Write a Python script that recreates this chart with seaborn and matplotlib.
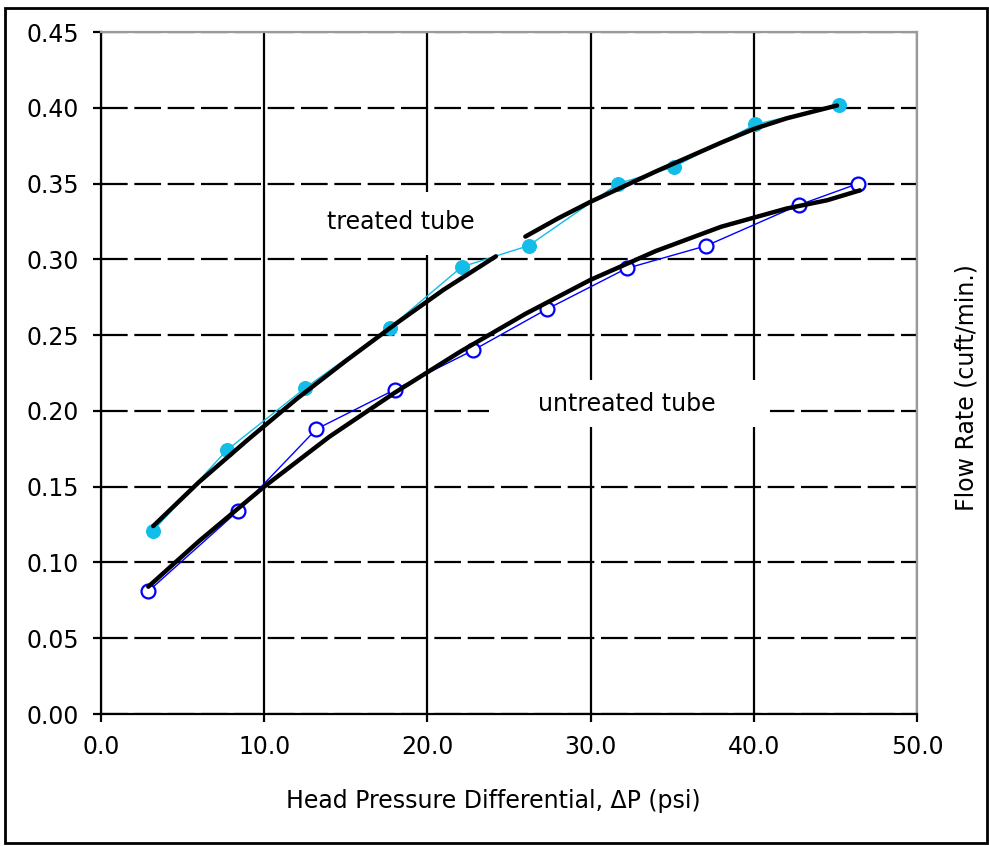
import numpy as np
import pandas as pd
import matplotlib.pyplot as plt
import matplotlib.patches as mpatches
import seaborn as sns

# --- data ----------------------------------------------------------------
treated_dp = [3.2, 7.7, 12.5, 17.7, 22.1, 26.2, 31.7, 35.1, 40.1, 45.2]
treated_flow = [0.121, 0.174, 0.215, 0.255, 0.295, 0.309, 0.350, 0.361, 0.389, 0.402]

untreated_dp = [2.9, 8.4, 13.2, 18.0, 22.8, 27.3, 32.2, 37.1, 42.8, 46.4]
untreated_flow = [0.081, 0.134, 0.188, 0.214, 0.240, 0.267, 0.294, 0.309, 0.336, 0.350]

# fitted curves, treated curve is drawn in two pieces
fit_treated_a_dp = [3.2, 6.0, 9.0, 12.0, 15.0, 18.0, 21.0, 24.2]
fit_treated_a_flow = [0.124, 0.153, 0.181, 0.208, 0.233, 0.257, 0.280, 0.302]
fit_treated_b_dp = [26.0, 28.0, 30.0, 32.0, 34.0, 36.0, 38.0, 40.0, 42.0, 44.0, 45.1]
fit_treated_b_flow = [0.315, 0.327, 0.338, 0.348, 0.358, 0.3675, 0.377, 0.386, 0.393,
                      0.3985, 0.4015]

fit_untreated_dp = [2.9, 6.0, 10.0, 14.0, 18.0, 22.0, 26.0, 30.0, 34.0, 38.0, 42.0,
                    44.5, 46.5]
fit_untreated_flow = [0.084, 0.114, 0.150, 0.183, 0.212, 0.239, 0.264, 0.2865, 0.3055,
                      0.3215, 0.3335, 0.339, 0.3455]

x_ticks = [0, 10, 20, 30, 40, 50]
y_ticks = [0.00, 0.05, 0.10, 0.15, 0.20, 0.25, 0.30, 0.35, 0.40, 0.45]

CYAN = "#12bde8"
BLUE = "#0000ff"

sns.set_style("white")
plt.rcParams['font.family'] = ['DejaVu Sans']
plt.rcParams['text.color'] = 'black'
plt.rcParams['axes.labelcolor'] = 'black'

fig = plt.figure(figsize=(9.89, 8.46), dpi=100)
ax = fig.add_axes([101 / 989, 132 / 846, 816 / 989, 682 / 846])

# raw measurements
sns.lineplot(x=treated_dp, y=treated_flow, ax=ax, color=CYAN, lw=1, marker='o',
             markersize=10, markeredgecolor=CYAN, sort=False, estimator=None, zorder=2)
sns.lineplot(x=untreated_dp, y=untreated_flow, ax=ax, color=BLUE, lw=1, marker='o',
             markersize=10, markerfacecolor='white', markeredgecolor=BLUE,
             markeredgewidth=1.6, sort=False, estimator=None, zorder=2)

# fit curves
for xs, ys in [(fit_treated_a_dp, fit_treated_a_flow),
               (fit_treated_b_dp, fit_treated_b_flow),
               (fit_untreated_dp, fit_untreated_flow)]:
    sns.lineplot(x=xs, y=ys, ax=ax, color='black', lw=3.2, sort=False,
                 estimator=None, zorder=3)

ax.set_xlim(0, 50)
ax.set_ylim(0, 0.45)
ax.set_xticks(x_ticks)
ax.set_yticks(y_ticks)
ax.set_xticklabels(["%.1f" % v for v in x_ticks])
ax.set_yticklabels(["%.2f" % v for v in y_ticks])

# grid: solid verticals, dashed horizontals
ax.set_axisbelow(True)
ax.xaxis.grid(True, color='black', lw=1.6, ls='-')
ax.yaxis.grid(True, color='black', lw=1.6, ls=(0, (12, 3)))

for side in ['left', 'bottom']:
    ax.spines[side].set_color('black')
    ax.spines[side].set_linewidth(1.6)
for side in ['top', 'right']:
    ax.spines[side].set_color('#9a9a9a')
    ax.spines[side].set_linewidth(1.6)

ax.tick_params(axis='both', direction='out', length=6, width=1.6, color='black',
               labelsize=17, labelcolor='black')
ax.tick_params(axis='x', pad=9, bottom=True)
ax.tick_params(axis='y', pad=10, left=True)

ax.set_xlabel("Head Pressure Differential, \u0394P (psi)", fontsize=17, color='black')
ax.xaxis.set_label_coords(0.481, -0.11)
ax.set_ylabel("Flow Rate (cuft/min.)", fontsize=17, color='black')
ax.yaxis.set_label_position('right')
ax.yaxis.set_label_coords(1.046, 0.478)

# white boxes behind the curve labels (hide the grid there)
ax.add_patch(mpatches.Rectangle((11.9, 0.303), 12.4, 0.0414, fc='white', ec='none',
                                zorder=1))
ax.add_patch(mpatches.Rectangle((23.8, 0.1894), 17.2, 0.031, fc='white', ec='none',
                                zorder=1))
ax.text(18.4, 0.3246, "treated tube", fontsize=17, ha='center', va='center',
        color='black', zorder=2.5)
ax.text(32.2, 0.2045, "untreated tube", fontsize=17, ha='center', va='center',
        color='black', zorder=2.5)

# outer frame around the whole figure
fig.patches.append(mpatches.Rectangle((5 / 989, 3 / 846), 982 / 989, 835 / 846,
                                      transform=fig.transFigure, fill=False,
                                      ec='black', lw=2))

fig.savefig("out.png", dpi=100, facecolor='white')
